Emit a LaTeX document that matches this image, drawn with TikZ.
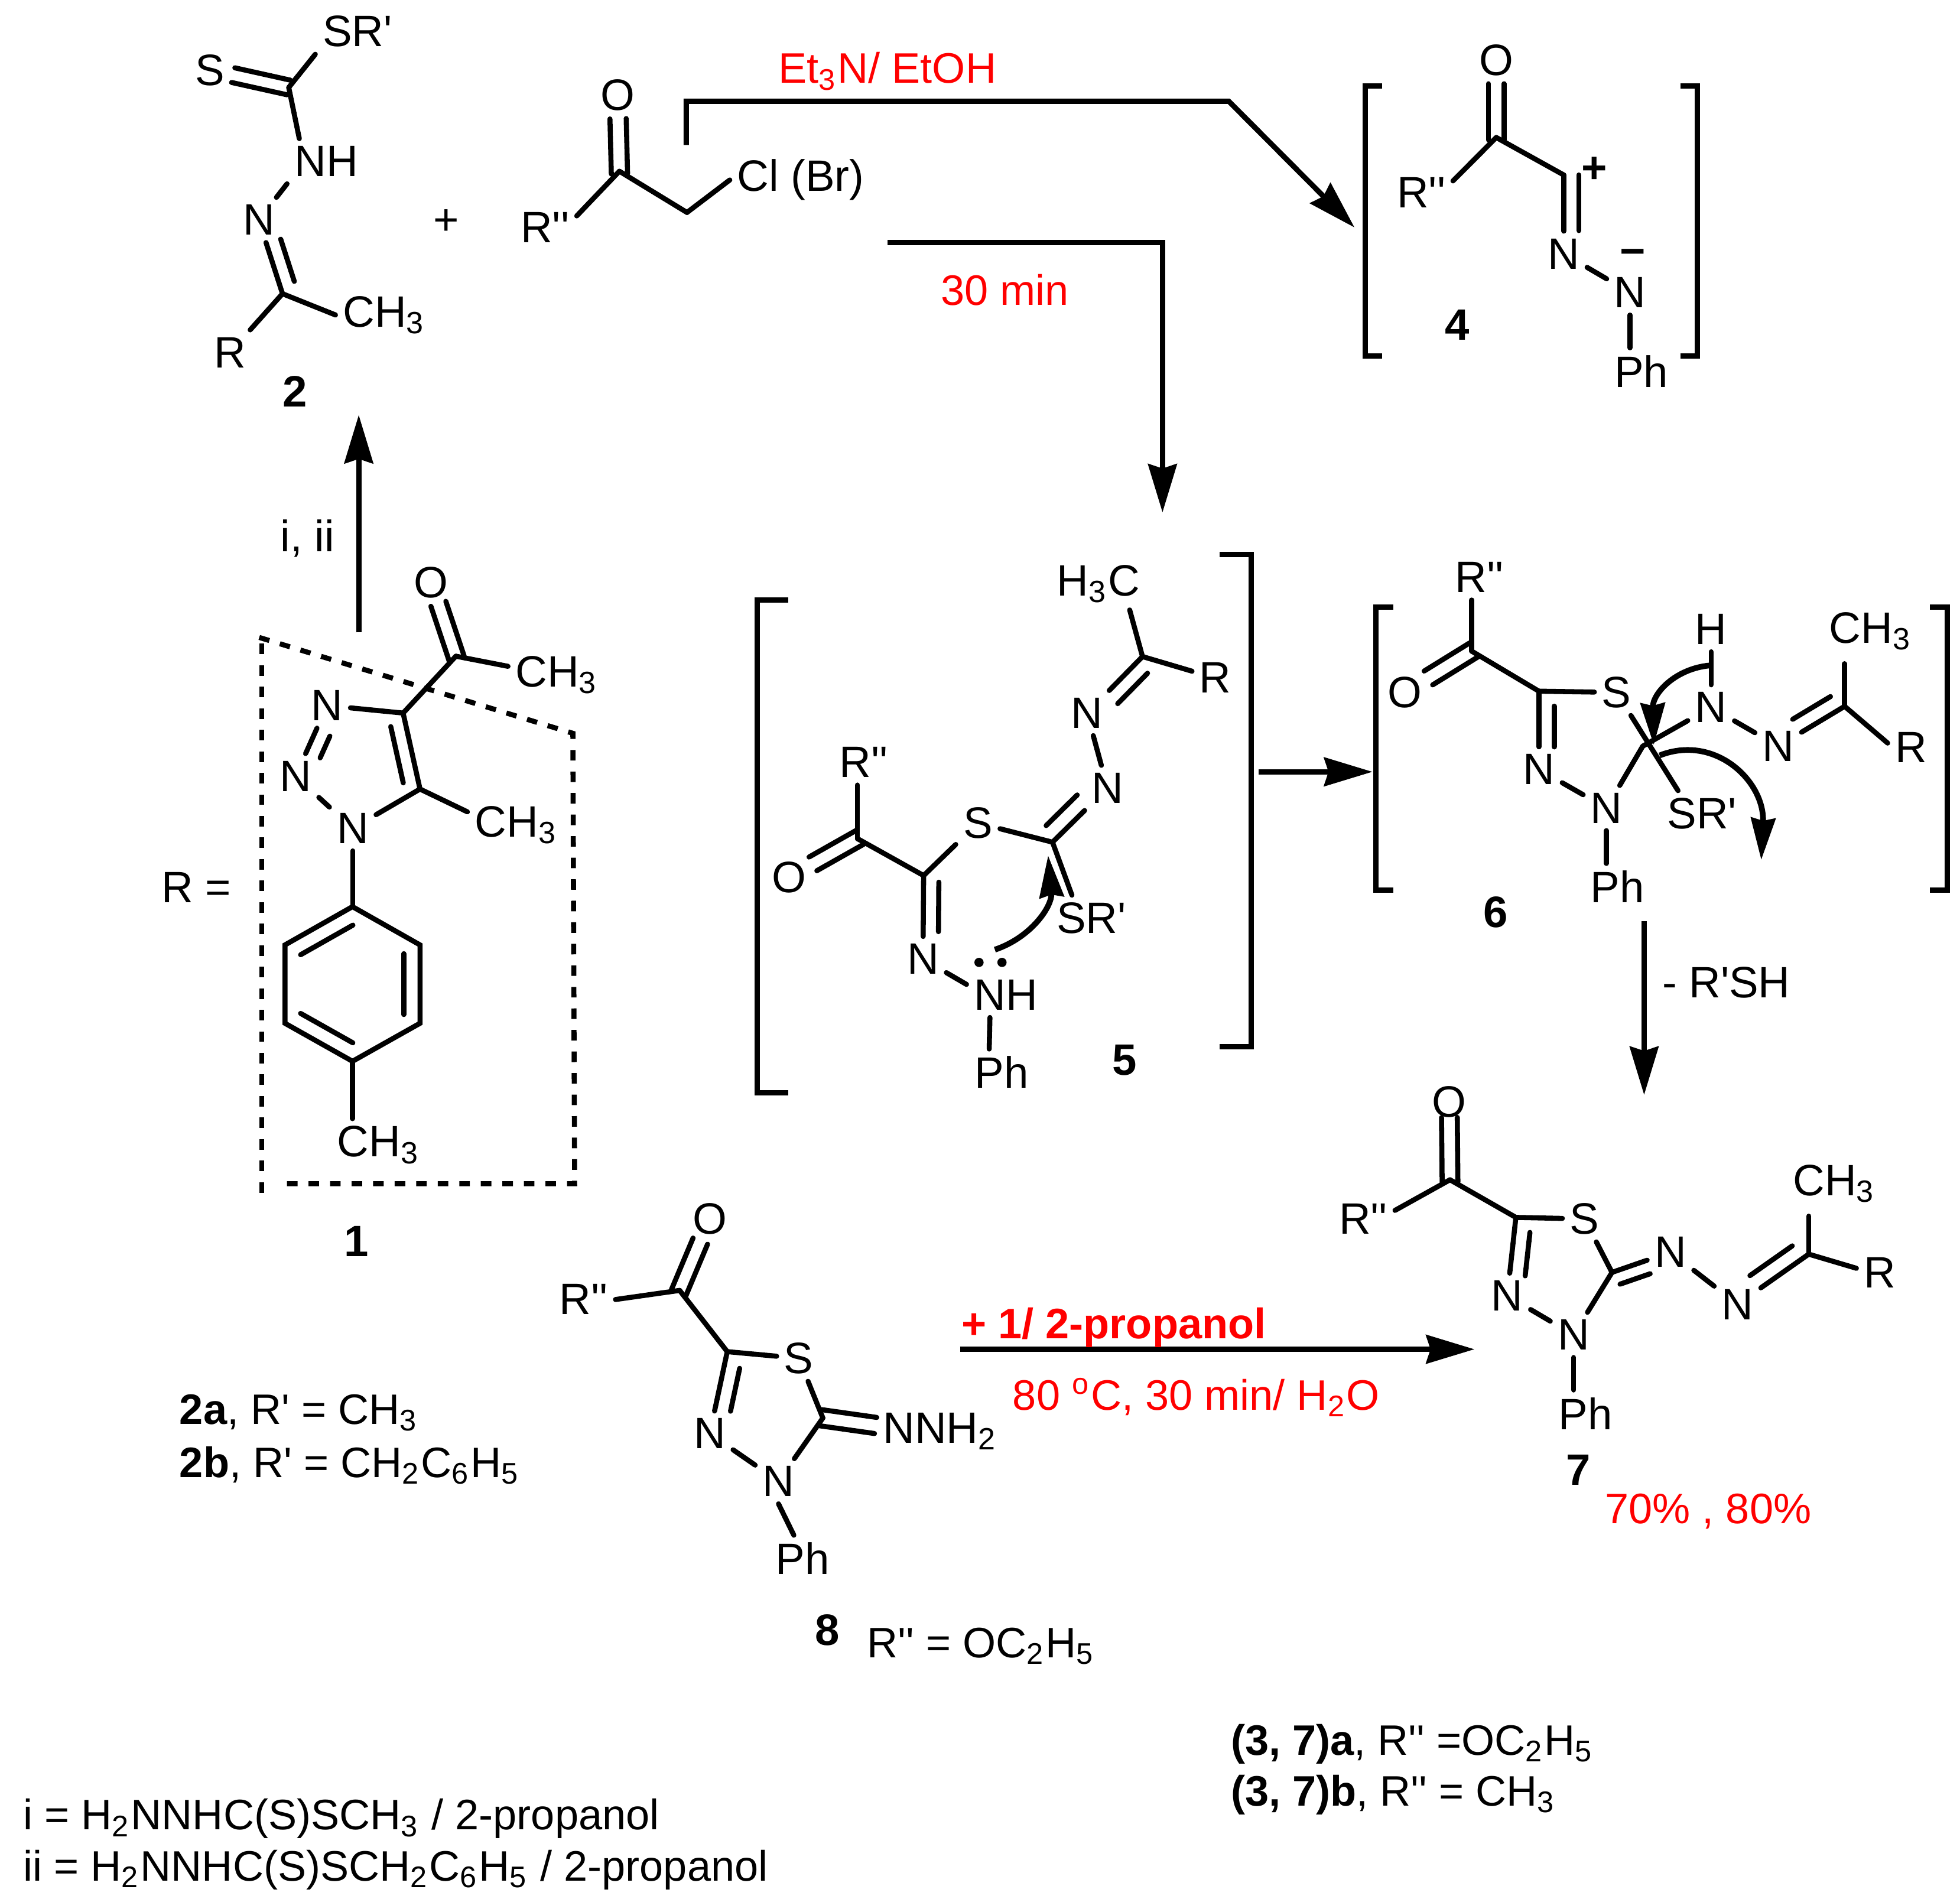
\documentclass[tikz,border=0pt]{standalone}
\usepackage{fontspec}
\setmainfont{Liberation Sans}
\usetikzlibrary{arrows.meta,calc}
\newcommand{\pr}{\textquotesingle}
\newcommand{\dblbond}[5]{\draw[shorten <=#4*0.2845pt,shorten >=#5*0.2845pt] ($(#1)!#3*0.2845pt!90:(#2)$) to ($(#2)!#3*0.2845pt!-90:(#1)$);}
\newcommand{\symbond}[5]{\dblbond{#1}{#2}{#3}{#4}{#5}\dblbond{#1}{#2}{-#3}{#4}{#5}}
\tikzset{
  bond/.style={line width=1.15pt,line cap=round},
  rxn/.style={line width=1.2pt,-{Stealth[length=11pt,width=6.5pt,inset=1pt]}},
  curly/.style={line width=1.3pt,-{Stealth[length=9.5pt,width=5.5pt,inset=0.6pt]}},
  bracket/.style={line width=1.2pt},
  dashbox/.style={line width=1.15pt,dash pattern=on 2.4pt off 2.5pt},
  txt/.style={font=\fontsize{9.7}{12}\selectfont},
  lab/.style={txt,anchor=base west,inner sep=0pt}
}
\begin{document}
\begin{tikzpicture}[x=0.01cm,y=-0.01cm,every node/.style={inner sep=1.5pt}]
      \useasboundingbox (0,0) rectangle (1568,1519);
      \path
        (286,25) node (sr2){SR\pr}
        (168,56) node (s2){S}
        (231,70) coordinate (c2a)
        (261,129) node (nh2){NH}
        (207,176) node (n2){N}
        (226,235) coordinate (c2b)
        (307.5,252) node (me2){CH\textsubscript{3}}
        (184,282) node (r2){R}
        (236,313) node (lb2){\textbf{2}}
        (357,178) node (plus){+}
        (494,76) node (ok){O}
        (495.5,137) coordinate (ck)
        (436,182) node (rk){R\pr\pr}
        (549.6,170) coordinate (ch2)
        (640.6,144) node (cl){Cl (Br)};
      \path
        (1197,48) node (o4){O}
        (1197,110) coordinate (c4a)
        (1137,154) node (r4){R\pr\pr}
        (1251,140) coordinate (c4b)
        (1251,203) node (n4a){N}
        (1304,234) node (n4b){N}
        (1313,297) node (ph4){Ph}
        (1275.5,136) node (pos4){\textbf{+}}
        (1306,206) node (neg4){\textbf{−}}
        (1166,260) node (lb4){\textbf{4}};
      \path
        (345,466) node (o1){O}
        (364.7,525) coordinate (c1a)
        (445.5,540) node (me1a){CH\textsubscript{3}}
        (322.5,570.5) coordinate (c1b)
        (336,631.3) coordinate (c1c)
        (261.7,564.5) node (n1a){N}
        (236.4,621) node (n1b){N}
        (282.2,662.7) node (n1c){N}
        (413,660) node (me1b){CH\textsubscript{3}}
        (282,725.4) coordinate (bz1)
        (336,756) coordinate (bz2)
        (336,818.7) coordinate (bz3)
        (282,849.1) coordinate (bz4)
        (228,818.7) coordinate (bz5)
        (228,756) coordinate (bz6)
        (303,916) node (me1c){CH\textsubscript{3}}
        (157,710) node (req){R =}
        (285,993) node (lb1){\textbf{1}};
      \path
        (878.7,467) node (me5){H\textsubscript{3}C}
        (914,525.3) coordinate (c5a)
        (972.3,542) node (r5){R}
        (869.7,570.5) node (n5a){N}
        (886,630.4) node (n5b){N}
        (842,673.8) coordinate (c5b)
        (782.3,658.5) node (s5){S}
        (738.9,700.5) coordinate (c5c)
        (686,671) coordinate (c5d)
        (631.2,702) node (o5){O}
        (691,610) node (rp5){R\pr\pr}
        (738.4,767.3) node (n5c){N}
        (804.6,796) node (nh5){NH}
        (801.3,858) node (ph5){Ph}
        (873,734.6) node (sr5){SR\pr}
        (899.6,848) node (lb5){\textbf{5}};
      \path
        (1183.5,462) node (r6){R\pr\pr}
        (1177.4,521) coordinate (c6a)
        (1124,554) node (o6){O}
        (1231.1,553) coordinate (c6b)
        (1293.2,554) node (s6){S}
        (1231.1,615.6) node (n6a){N}
        (1285.2,646.5) node (n6b){N}
        (1293.9,709.5) node (ph6){Ph}
        (1314.2,597) coordinate (c6c)
        (1361.5,651) node (sr6){SR\pr}
        (1368.9,566) node (n6c){N}
        (1368.9,503.4) node (h6){H}
        (1422.6,597) node (n6d){N}
        (1475.7,565.1) coordinate (c6d)
        (1496.5,505) node (me6){CH\textsubscript{3}}
        (1528.8,597.8) node (r6b){R}
        (1196.4,730) node (lb6){\textbf{6}};
      \path
        (1159.4,881.6) node (o7){O}
        (1160,943.9) coordinate (c7a)
        (1090.6,975.2) node (r7){R\pr\pr}
        (1212.7,974) coordinate (c7b)
        (1267.6,975.2) node (s7){S}
        (1289.6,1018) coordinate (c7c)
        (1205.8,1036.7) node (n7a){N}
        (1258.9,1068) node (n7b){N}
        (1268.5,1130.8) node (ph7){Ph}
        (1336.4,1001.8) node (n7c){N}
        (1390,1043.5) node (n7d){N}
        (1447,1003.4) coordinate (c7d)
        (1467.5,947) node (me7){CH\textsubscript{3}}
        (1503.8,1018) node (r7b){R}
        (1262.5,1176) node (lb7){\textbf{7}};
      \path
        (567.8,975) node (o8){O}
        (543.7,1032.4) coordinate (c8a)
        (467,1039.7) node (r8){R\pr\pr}
        (581.8,1081.4) coordinate (c8b)
        (639,1086.7) node (s8){S}
        (658.3,1134.5) coordinate (c8c)
        (567.8,1147) node (n8a){N}
        (622.8,1185.1) node (n8b){N}
        (641.9,1247) node (ph8){Ph}
        (752.3,1145) node (nnh){NNH\textsubscript{2}}
        (661.9,1304) node (lb8){\textbf{8}};
      \begin{scope}[bond]
        \draw (c2a) to (sr2.south west);
        \symbond{c2a}{s2}{6}{0}{19}
        \draw (c2a) to (nh2.140);
        \draw (nh2.south west) to (n2);
        \draw (n2) to (c2b);
        \dblbond{c2b}{n2}{-12}{6.5}{20}
        \draw (c2b) to (me2.west);
        \draw (c2b) to (r2);
        \symbond{ck}{ok}{6.5}{-2}{19}
        \draw (ck) to (rk.20);
        \draw (ck) to (ch2);
        \draw (ch2) to (cl.west);
        \symbond{c4a}{o4}{6.2}{-2}{19}
        \draw (c4a) to (r4.20);
        \draw (c4a) to (c4b);
        \draw (c4b) to (n4a);
        \dblbond{c4b}{n4a}{12}{0}{18.5}
        \draw (n4a) to (n4b);
        \draw (n4b) to (n4b |- ph4.north);
        \symbond{c1a}{o1}{6.3}{-2}{18}
        \draw (c1a) to (me1a.170);
        \draw (c1a) to (c1b);
        \draw (c1b) to (n1a);
        \draw (c1b) to (c1c);
        \dblbond{c1b}{c1c}{-12}{8.4}{7.7}
        \draw (n1a) to (n1b);
        \dblbond{n1a}{n1b}{12}{21.4}{21.4}
        \draw (n1b) to (n1c);
        \draw (n1c) to (c1c);
        \draw (c1c) to (me1b.165);
        \draw (n1c) to (n1c |- bz1);
        \draw (bz1) to (bz2) to (bz3) to (bz4) to (bz5) to (bz6) to (bz1);
        \dblbond{bz6}{bz1}{-13}{7}{7}
        \dblbond{bz2}{bz3}{-13}{7}{7}
        \dblbond{bz5}{bz4}{13}{7}{7}
        \draw (bz4) to (bz4 |- me1c.north);
        \draw (c5a) to (me5.-40);
        \draw (c5a) to (r5.165);
        \draw (c5a) to (n5a);
        \dblbond{c5a}{n5a}{12.2}{6.7}{22.5}
        \draw (n5a) to (n5b);
        \draw (n5b) to (c5b);
        \dblbond{c5b}{n5b}{13}{5.7}{21.2}
        \draw (c5b) to (s5);
        \draw (s5) to (c5c);
        \draw (c5c) to (c5d);
        \symbond{c5d}{o5}{6.3}{-2}{22}
        \draw (c5d) to (c5d |- rp5.south);
        \draw (c5c) to (n5c);
        \dblbond{c5c}{n5c}{12.2}{5.2}{22}
        \draw (n5c) to (nh5.165);
        \draw (nh5.-125) to (ph5.118);
        \draw (c5b) to (sr5.130);
        \draw (c6a) to (c6a |- r6.south);
        \symbond{c6a}{o6}{6.5}{-2}{22}
        \draw (c6a) to (c6b);
        \draw (c6b) to (s6);
        \draw (c6b) to (n6a);
        \dblbond{c6b}{n6a}{12.3}{12}{18}
        \draw (n6a) to (n6b);
        \draw (n6b) to (n6b |- ph6.north);
        \draw (n6b) to (c6c);
        \draw (s6) to (sr6.136);
        \draw (c6c) to (n6c);
        \draw (n6c) to (h6);
        \draw (n6c) to (n6d);
        \draw (n6d) to (c6d);
        \dblbond{c6d}{n6d}{-12.5}{5.7}{21}
        \draw[shorten >=5*0.2845pt] (c6d) to (c6d |- me6.south);
        \draw (c6d) to (r6b.170);
        \symbond{c7a}{o7}{6.3}{-2}{12.5}
        \draw (c7a) to (r7.15);
        \draw (c7a) to (c7b);
        \draw (c7b) to (s7);
        \draw (c7b) to (n7a);
        \dblbond{c7b}{n7a}{12.5}{10.7}{17.4}
        \draw (s7) to (c7c);
        \draw (n7a) to (n7b);
        \draw (n7b) to (c7c);
        \draw (n7b) to (n7b |- ph7.north);
        \draw (c7c) to (n7c);
        \dblbond{c7c}{n7c}{-11}{3}{21}
        \draw (n7c) to (n7d);
        \draw (n7d) to (c7d);
        \dblbond{c7d}{n7d}{-13}{7}{21.3}
        \draw[shorten >=5*0.2845pt] (c7d) to (c7d |- me7.south);
        \draw (c7d) to (r7b.170);
        \symbond{c8a}{o8}{6.3}{-2}{19.5}
        \draw (c8a) to (r8.east);
        \draw (c8a) to (c8b);
        \draw (c8b) to (s8);
        \draw (c8b) to (n8a);
        \dblbond{c8b}{n8a}{12.5}{11}{21}
        \draw (s8) to (c8c);
        \draw (n8a) to (n8b);
        \draw (n8b) to (c8c);
        \draw (n8b.south) to (ph8.110);
        \symbond{c8c}{nnh.175}{6.5}{-2}{0}
      \end{scope}
      \fill (783.2,770) circle (3.7);
      \fill (801.6,770) circle (3.7);
      \draw[dashbox] (207.4,510) to (458.3,586.7) to (459.7,947) to (222,947);
      \draw[dashbox] (209.4,515) to (209.4,955);
      \draw[bracket] (1105.7,69) -- (1092,69) -- (1092,285) -- (1105.7,285);
      \draw[bracket] (1344.5,69) -- (1358,69) -- (1358,285) -- (1344.5,285);
      \draw[bracket] (630.4,480) -- (606,480) -- (606,874.5) -- (630.4,874.5);
      \draw[bracket] (975.8,443.7) -- (1000.8,443.7) -- (1000.8,837.4) -- (975.8,837.4);
      \draw[bracket] (1114.6,485.7) -- (1100.8,485.7) -- (1100.8,712) -- (1114.6,712);
      \draw[bracket] (1544,485.7) -- (1557.8,485.7) -- (1557.8,712) -- (1544,712);
      \path
        (287,506) coordinate (a1s)
        (287,332) coordinate (a1e)
        (549,116) coordinate (a2s)
        (549,81) coordinate (a2a)
        (983,81) coordinate (a2b)
        (1083.6,182) coordinate (a2e)
        (710,194) coordinate (a3s)
        (930,194) coordinate (a3a)
        (930,410) coordinate (a3e)
        (1007,617.5) coordinate (a4s)
        (1098,617.5) coordinate (a4e)
        (1315.3,737) coordinate (a5s)
        (1315.3,876) coordinate (a5e)
        (768,1079.5) coordinate (a6s)
        (1179.6,1079.5) coordinate (a6e);
      \draw[rxn] (a1s) to (a1e);
      \draw[rxn] (a2s) to (a2a) to (a2b) to (a2e);
      \draw[rxn] (a3s) to (a3a) to (a3e);
      \draw[rxn] (a4s) to (a4e);
      \draw[rxn] (a5s) to (a5e);
      \draw[rxn] (a6s) to (a6e);
      \draw[curly] (795.9,759.8) .. controls (825,750) and (842,725) .. (838.5,684.5);
      \draw[curly] (1367.9,532.4) .. controls (1340,535) and (1322,555) .. (1323,596);
      \draw[curly] (1327.7,604.4) .. controls (1372,587) and (1412,625) .. (1409,688);
      \path[text=red,every node/.append style={txt}]
        (710,57) node (et){Et\textsubscript{3}N/ EtOH}
        (804,232) node (tm){30 min}
        (891,1062) node (pr){\textbf{+ 1/ 2-propanol}}
        (957,1118) node (tp){80 \textsuperscript{o}C, 30 min/ H\textsubscript{2}O}
        (1366.6,1209) node (yd){70\% , 80\%};
      \path
        (246,431) node (ro){i, ii}
        (1381,786) node (rsh){- R\pr SH}
        (143,1139.5) node[lab] (va){\textbf{2a}, R\pr\ = CH\textsubscript{3}}
        (143,1182) node[lab] (vb){\textbf{2b}, R\pr\ = CH\textsubscript{2}C\textsubscript{6}H\textsubscript{5}}
        (693,1326) node[lab] (rv){R\pr\pr\ = OC\textsubscript{2}H\textsubscript{5}}
        (984,1404) node[lab] (ca){\textbf{(3, 7)a}, R\pr\pr\ =OC\textsubscript{2}H\textsubscript{5}}
        (984,1445) node[lab] (cb){\textbf{(3, 7)b}, R\pr\pr\ = CH\textsubscript{3}}
        (18,1464) node[lab] (ki){i = H\textsubscript{2}NNHC(S)SCH\textsubscript{3} / 2-propanol}
        (18,1505) node[lab] (kii){ii = H\textsubscript{2}NNHC(S)SCH\textsubscript{2}C\textsubscript{6}H\textsubscript{5} / 2-propanol};
    \end{tikzpicture}
\end{document}
